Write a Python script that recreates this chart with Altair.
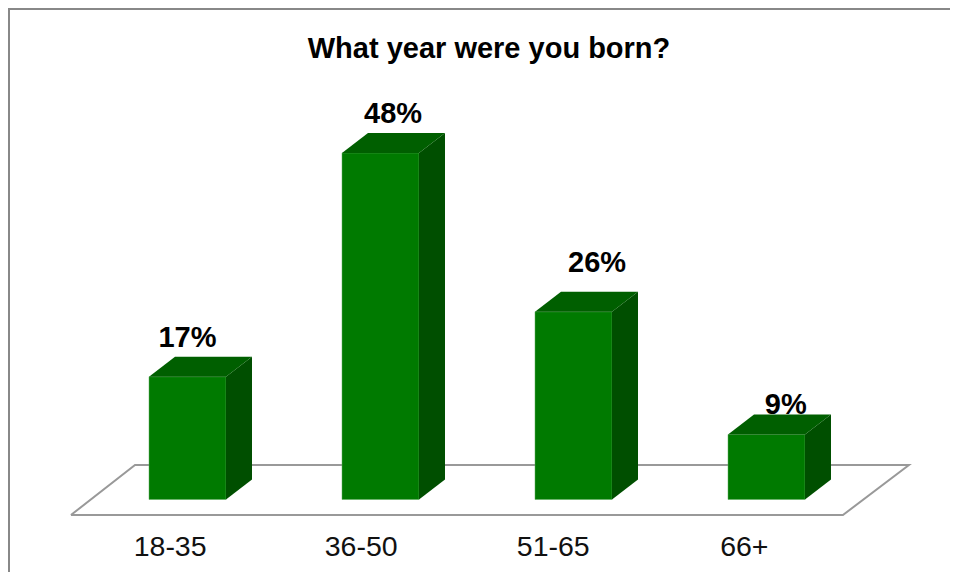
import altair as alt
import pandas as pd

categories = ["18-35", "36-50", "51-65", "66+"]
values = [17, 48, 26, 9]
labels = ["17%", "48%", "26%", "9%"]
title_text = "What year were you born?"
caption_bold = "Figure 1."
caption_rest = "Distribution of respondents age (n=140, 36 missing)"

W, H = 942, 564
PX_X = 193.0            # pixels per category step
PX_Y = 7.22             # pixels per percentage point
X0, Y0 = 179.5, 491.5   # pixel position of category 0 and of 0 %
BAR = 77 / PX_X
DX, DY = 26 / PX_X, 20 / PX_Y
xs = alt.Scale(domain=[-X0 / PX_X, (W - X0) / PX_X], range=[0, W], nice=False, zero=False)
ys = alt.Scale(domain=[(Y0 - H) / PX_Y, Y0 / PX_Y], range=[H, 0], nice=False, zero=False)
X = lambda f: alt.X(f, type="quantitative", scale=xs, axis=None)
Y = lambda f: alt.Y(f, type="quantitative", scale=ys, axis=None)

GREEN, TOP, SIDE = "#007A00", "#005F00", "#004F00"
LABEL_DX = [0.0, 0.065, 0.122, 0.10]
LABEL_DY = [5.3, 5.4, 6.8, 4.12]
AXIS_DX = [-0.09, -0.10, -0.105, -0.115]

front, side, top, txt = [], [], [], []
for i, (c, v, l) in enumerate(zip(categories, values, labels)):
    a, b = i - BAR / 2, i + BAR / 2
    front.append(dict(c=c, x=a, x2=b, y=0, y2=v))
    side += [dict(c=c, x=b, y=v, y2=0), dict(c=c, x=b + DX, y=v + DY, y2=DY)]
    top += [dict(c=c, x=a, y=v, y2=v), dict(c=c, x=a + DX, y=v + DY, y2=v),
            dict(c=c, x=b, y=v + DY, y2=v), dict(c=c, x=b + DX, y=v + DY, y2=v + DY)]
    txt.append(dict(c=c, x=i + LABEL_DX[i], y=v + LABEL_DY[i], t=l, ax=i + AXIS_DX[i]))

floor = pd.DataFrame(dict(
    x=[-0.604, 3.396, 3.738, -0.272, -0.604],
    y=[-2.15, -2.15, 4.78, 4.78, -2.15],
    o=[0, 1, 2, 3, 4]))
txt = pd.DataFrame(txt)

floor_l = alt.Chart(floor).mark_line(color="#999999", strokeWidth=2).encode(X("x"), Y("y"), order="o:Q")
front_l = alt.Chart(pd.DataFrame(front)).mark_bar(color=GREEN, stroke="#5FAF5F", strokeWidth=0.5).encode(X("x"), x2="x2", y=Y("y"), y2="y2")
side_l = alt.Chart(pd.DataFrame(side)).mark_area(color=SIDE).encode(X("x"), Y("y"), y2="y2", detail="c:N")
top_l = alt.Chart(pd.DataFrame(top)).mark_area(color=TOP).encode(X("x"), Y("y"), y2="y2", detail="c:N")
vals = alt.Chart(txt).mark_text(font="Liberation Sans", fontWeight="bold", fontSize=29, color="#000000", baseline="middle").encode(X("x"), Y("y"), text="t:N")
ax_l = alt.Chart(txt).mark_text(font="Liberation Sans", fontSize=28.5, color="#111111", baseline="middle").encode(
    X("ax"), y=alt.value(539), text="c:N")
title_l = alt.Chart(pd.DataFrame({"t": [title_text]})).mark_text(font="Liberation Sans", fontWeight="bold", fontSize=29, color="#000000", baseline="middle").encode(
    x=alt.value(481), y=alt.value(41), text="t:N")
cap1 = alt.Chart(pd.DataFrame({"t": [caption_bold]})).mark_text(font="Liberation Sans", fontWeight="bold", fontSize=26, color="#000000", align="left", baseline="alphabetic").encode(
    x=alt.value(77), y=alt.value(-4), text="t:N")
cap2 = alt.Chart(pd.DataFrame({"t": [caption_rest]})).mark_text(font="Liberation Sans", fontSize=26, color="#000000", align="left", baseline="alphabetic").encode(
    x=alt.value(200), y=alt.value(-4), text="t:N")
b_left = alt.Chart(pd.DataFrame({"a": [0]})).mark_rule(color="#888888", strokeWidth=2).encode(x=alt.value(1), y=alt.value(0), y2=alt.value(H))
b_top = alt.Chart(pd.DataFrame({"a": [0]})).mark_rule(color="#888888", strokeWidth=2).encode(x=alt.value(0), x2=alt.value(W), y=alt.value(1))

chart = alt.layer(
    cap1, cap2, b_left, b_top, floor_l, vals, front_l, side_l, top_l, ax_l, title_l
).properties(width=W, height=H, padding=0, autosize="none", background="#FFFFFF").configure_view(stroke=None)

chart.save("out.html", embed_options={"renderer": "svg", "actions": False})
